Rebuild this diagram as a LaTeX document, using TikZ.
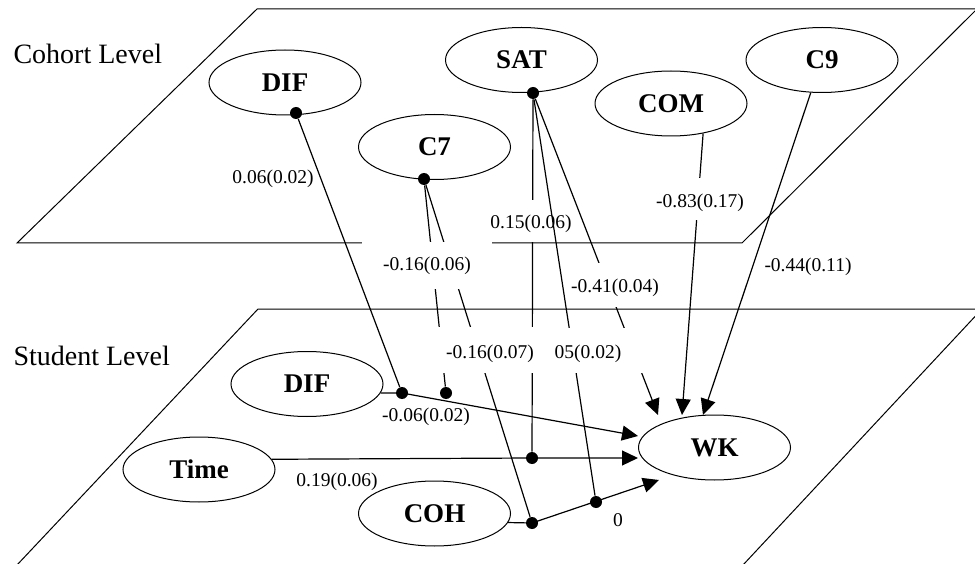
\documentclass[tikz,border=0pt]{standalone}
\usepackage{fontspec}
\setmainfont{Liberation Serif}
\usetikzlibrary{arrows.meta,shapes.geometric}

\begin{document}
\begin{tikzpicture}[
    x=1pt, y=-1pt,
    line width=1pt,
    var/.style={draw, ellipse, minimum width=152pt, minimum height=65pt, inner sep=0pt, font=\fontsize{27}{30}\selectfont\bfseries},
    lvl/.style={anchor=base west, inner sep=0pt, font=\fontsize{28}{30}\selectfont},
    coef/.style={anchor=base, inner sep=0pt, font=\fontsize{19.5}{22}\selectfont},
    cut/.style={coef, fill=white},
    dot/.style={circle, fill, inner sep=0pt, minimum size=12pt},
    link/.style={line width=1.2pt},
    arr/.style={link, -{Triangle[length=16pt, width=15pt]}},
  ]
  \useasboundingbox (0,0) rectangle (975,564);

  % the two levels
  \draw (17,243) -- (257,9) -- (977,9) -- (742,243) -- cycle;
  \draw (17,565) -- (258,309) -- (982,309) -- (743,565) -- cycle;
  \node[lvl] (cohort)  at (13,64)  {Cohort Level};
  \node[lvl] (student) at (13,365) {Student Level};

  % cohort variables
  \node[var] (dif1) at (285,82.5)  {DIF};
  \node[var] (c7)   at (434.5,147) {C7};
  \node[var] (sat)  at (521.5,60)  {SAT};
  \node[var] (com)  at (671,103.5) {COM};
  \node[var] (c9)   at (822,60)    {C9};

  % student variables
  \node[var] (dif2) at (307,384)     {DIF};
  \node[var] (time) at (199,469.5)   {Time};
  \node[var] (coh)  at (434.5,513.5) {COH};
  \node[var] (wk)   at (714.5,447.5) {WK};

  % junctions
  \node[dot] (ca) at (296,113) {};
  \node[dot] (cb) at (424,179) {};
  \node[dot] (cc) at (533,93)  {};
  \node[dot] (da) at (402,393) {};
  \node[dot] (db) at (446,393) {};
  \node[dot] (dc) at (532,458) {};
  \node[dot] (dd) at (532,523) {};
  \node[dot] (de) at (596,502) {};

  \coordinate (tsat) at (658,415);
  \coordinate (tcom) at (682,415);
  \coordinate (tc9)  at (703,415);
  \coordinate (tdif) at (638,436);
  \coordinate (tcoh) at (659,480);

  % cross-level links
  \draw[link] (cc) -- (dc);
  \draw[link] (cb) -- (db);
  \draw[link] (cb) -- (dd);
  \draw[arr]  (com.-43) -- (tcom);

  \node[cut, text height=29pt, text depth=18pt, minimum width=130pt] (e2) at (427,271) {-0.16(0.06)};
  \node[cut, text height=29pt, text depth=13pt, minimum width=96pt]  (e3) at (531,229) {0.15(0.06)};
  \node[cut, text height=30pt, text depth=12pt, minimum width=100pt] (e4) at (700,208) {-0.83(0.17)};

  \draw[link] (cc) -- (de);
  \draw[arr]  (cc) -- (tsat);
  \draw[link] (ca) -- (da);

  \node[cut, text height=30pt, text depth=14pt, minimum width=94pt]  (e6) at (615,293) {-0.41(0.04)};
  \node[cut, text height=30pt, text depth=15pt, minimum width=114pt] (e8) at (588,358) {05(0.02)};
  \node[cut, text height=31pt, text depth=15pt, minimum width=108pt] (e7) at (490,358) {-0.16(0.07)};

  \draw[arr] (c9.-109) -- (tc9);

  % student level paths
  \draw[arr] (dif2.-7) -- (da.center) -- (tdif);
  \draw[arr] (time.8) -- (dc.center) -- (dc.center -| wk.west);
  \draw[arr] (coh.-7) -- (dd.center) -- (tcoh);

  \node[coef] (e1)  at (273,184) {0.06(0.02)};
  \node[coef] (e5)  at (808,272) {-0.44(0.11)};
  \node[coef] (e9)  at (426,421) {-0.06(0.02)};
  \node[coef] (e10) at (337,486) {0.19(0.06)};
  \node[coef] (e11) at (618,526) {0};
\end{tikzpicture}
\end{document}
